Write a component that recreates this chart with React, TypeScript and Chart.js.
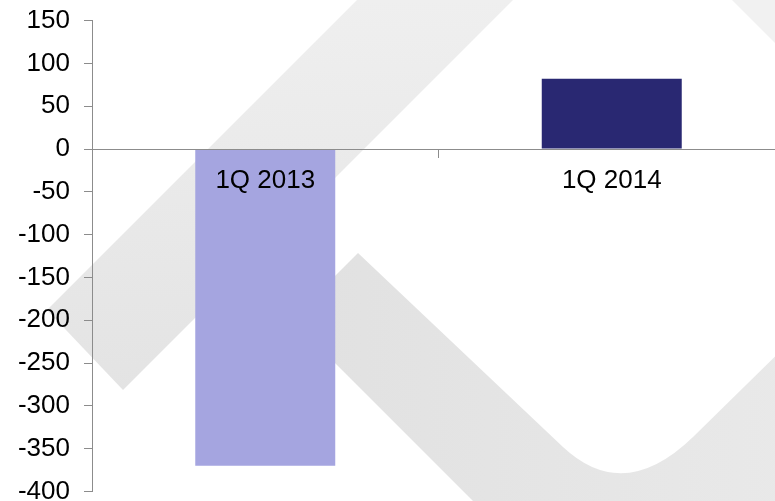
import React, { useEffect, useRef } from "react";
import { Chart, registerables } from "chart.js";

Chart.register(...registerables);

const categories = ["1Q 2013", "1Q 2014"];
const values = [-370, 82];
const barColors = ["#A5A5E0", "#292872"];
const yMin = -400;
const yMax = 150;
const yStep = 50;

const FONT = "'Liberation Sans', Arial, sans-serif";
const AXIS_GREY = "#8c8c8c";
const SHIFT_Y = 9; // canvas is placed 9px above the page top

const watermark = {
  id: "watermark",
  beforeDraw(chart: any) {
    const ctx = chart.ctx as CanvasRenderingContext2D;
    ctx.save();
    ctx.translate(0, SHIFT_Y);
    const g1 = ctx.createLinearGradient(0, 0, 0, 400);
    g1.addColorStop(0, "#efefef");
    g1.addColorStop(1, "#e3e3e3");
    ctx.fillStyle = g1;
    ctx.beginPath();
    ctx.moveTo(47, 310);
    ctx.lineTo(123, 390);
    ctx.lineTo(523, -10);
    ctx.lineTo(367, -10);
    ctx.closePath();
    ctx.fill();
    const g2 = ctx.createLinearGradient(300, 0, 800, 0);
    g2.addColorStop(0, "#e1e1e1");
    g2.addColorStop(1, "#e9e9e9");
    ctx.fillStyle = g2;
    ctx.beginPath();
    ctx.moveTo(291.5, 319.5);
    ctx.lineTo(358, 253);
    ctx.lineTo(563, 447);
    ctx.quadraticCurveTo(624, 504, 693, 437);
    ctx.lineTo(800, 332);
    ctx.lineTo(800, 530);
    ctx.lineTo(502, 530);
    ctx.closePath();
    ctx.fill();
    ctx.fillStyle = "#f1f1f1";
    ctx.beginPath();
    ctx.moveTo(722, -10);
    ctx.lineTo(800, 68);
    ctx.lineTo(800, -10);
    ctx.closePath();
    ctx.fill();
    ctx.restore();
  },
};

export default function App() {
  const ref = useRef<HTMLCanvasElement | null>(null);
  useEffect(() => {
    if (!ref.current) return;
    const chart = new Chart(ref.current, {
      type: "bar",
      data: {
        labels: categories,
        datasets: [
          {
            data: values,
            backgroundColor: barColors,
            borderWidth: 0,
            barPercentage: 0.404,
            categoryPercentage: 1,
          },
        ],
      },
      options: {
        responsive: false,
        animation: false,
        layout: { padding: { left: 0, right: 15, top: 0, bottom: 0 } },
        plugins: {
          legend: { display: false },
          tooltip: { enabled: false },
        },
        scales: {
          x: {
            position: { y: 0 } as any,
            offset: true,
            grid: {
              offset: true,
              drawOnChartArea: false,
              drawTicks: true,
              tickLength: 8,
              color: AXIS_GREY,
              z: 1,
            },
            border: { display: true, color: AXIS_GREY, width: 1, z: 1 },
            ticks: {
              color: "#000",
              padding: 8,
              maxRotation: 0,
              z: 1,
              font: { family: FONT, size: 26 },
            },
          },
          y: {
            min: yMin,
            max: yMax,
            afterFit: (s: any) => {
              s.width = 92;
            },
            grid: {
              drawOnChartArea: false,
              drawTicks: true,
              tickLength: 8,
              color: AXIS_GREY,
            },
            border: { display: true, color: AXIS_GREY, width: 1 },
            ticks: {
              stepSize: yStep,
              color: "#000",
              padding: 14,
              font: { family: FONT, size: 26 },
              callback: (v: any) => String(v),
            },
          },
        },
      },
      plugins: [watermark],
    });
    return () => chart.destroy();
  }, []);
  return (
    <div style={{ position: "fixed", left: 0, top: -SHIFT_Y, width: 800, height: 530, background: "#fff" }}>
      <canvas ref={ref} width={800} height={530} style={{ display: "block" }} />
    </div>
  );
}
